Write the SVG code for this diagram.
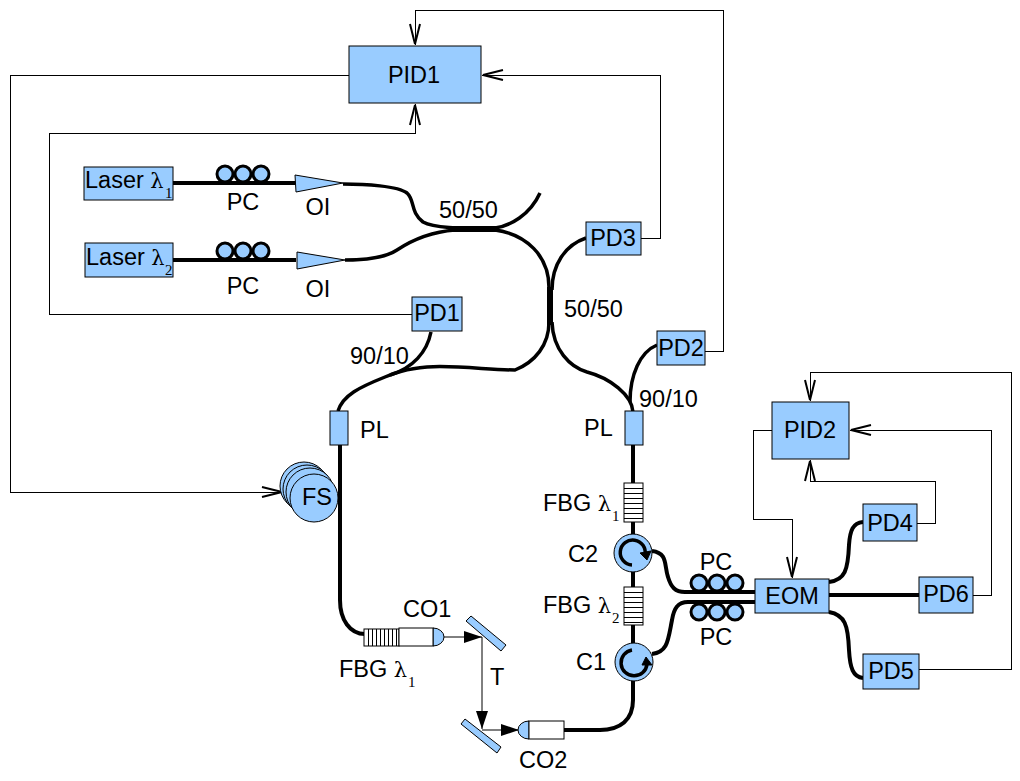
<svg xmlns="http://www.w3.org/2000/svg" width="1020" height="781" viewBox="0 0 1020 781">
<style>
text{font-family:"Liberation Sans",Arial,sans-serif;font-size:23.500px;fill:#000}
.c{text-anchor:middle}
.sym{font-family:"DejaVu Serif","Liberation Serif",serif;font-size:21px}
.sub{font-family:"Liberation Serif",serif;font-size:15px}
.box{fill:#99ccff;stroke:#000;stroke-width:1}
.coil{fill:#99ccff;stroke:#000;stroke-width:3}
.fib{fill:none;stroke:#000;stroke-width:3.500}
.heavy{fill:none;stroke:#000;stroke-width:4}
.thick{fill:none;stroke:#000;stroke-width:6}
.wire{fill:none;stroke:#000;stroke-width:1;shape-rendering:crispEdges;marker-end:url(#open)}
.beam{fill:none;stroke:#000;stroke-width:1;marker-end:url(#solid)}
.white{fill:#fff;stroke:#000;stroke-width:1}
.grate{stroke:#000;stroke-width:1;fill:none;shape-rendering:crispEdges}
.turn{fill:none;stroke:#000;stroke-width:3.500}
</style>
<defs>
<marker id="open" markerUnits="userSpaceOnUse" markerWidth="24" markerHeight="14" refX="22" refY="7" orient="auto">
<path d="M1 2L21 7L1 12" fill="none" stroke="#000" stroke-width="2"/>
</marker>
<marker id="solid" markerUnits="userSpaceOnUse" markerWidth="20" markerHeight="14" refX="18" refY="6" orient="auto">
<path d="M0 0L18 6L0 12Z" fill="#000"/>
</marker>
</defs>

<g id="connectors">
<!-- control wiring -->
<path class="wire" d="M349 75H10V492H283"/>
<path class="wire" d="M412 314H49V133H415V104"/>
<path class="wire" d="M641 238H660V75H482"/>
<path class="wire" d="M705 351H723V10H415V45"/>
<path class="wire" d="M772 430H753V519H792V578"/>
<path class="wire" d="M917 523H935V481H810V460"/>
<path class="wire" d="M973 595H991V430H850"/>
<path class="wire" d="M919 669H1011V372H810V401"/>
<!-- fibre runs -->
<path class="heavy" d="M173 183H296M173 260H296"/>
<path class="fib" d="M343 184C365 184 398 186 407 193C415 200 410 212 423 222C432 227 445 227 455 228"/>
<path class="fib" d="M345 260C365 260 385 258 397 250C412 240 430 232 455 230"/>
<path class="fib" d="M495 228C510 226 530 215 540 193"/>
<path class="fib" d="M495 230C525 234 550 255 549 290"/>
<path class="fib" d="M586 238C565 245 552 265 552 290"/>
<path class="fib" d="M549 322C549 345 535 362 515 370C490 370 455 365 427 367C405 369 395 373 385 377C360 387 343 395 338 411"/>
<path class="fib" d="M431 332C427 352 413 368 390 375"/>
<path class="fib" d="M552 322C553 350 570 367 587 372C610 378 632 395 633 412"/>
<path class="fib" d="M657 345C640 352 630 375 630 402"/>
<path class="thick" d="M453 229H497M550 287V325"/>
<path class="heavy" d="M340 445V600C340 620 350 634 365 634"/>
<path class="heavy" d="M633 445V483M633 522V535M633 571V587M633 625V643M633 681V700C633 720 620 730 600 730H564"/>
<path class="heavy" d="M652 551C668 553 664 565 668 577C671 587 675 592 685 592H755"/>
<path class="heavy" d="M652 654C668 652 668 640 672 620C674 608 678 602 688 602H755"/>
<path class="heavy" d="M829 582C845 580 848 570 849 545C850 530 853 523 863 522"/>
<path class="heavy" d="M829 595H919"/>
<path class="heavy" d="M829 612C845 615 848 625 849 650C850 668 853 677 863 678"/>
<!-- free-space beam -->
<path class="beam" d="M444 637H482"/>
<path class="beam" d="M482 637V729"/>
<path class="beam" d="M482 730H519"/>
</g>

<g id="pid1"><rect class="box" x="349" y="46" width="132" height="57"/><text class="c" x="414" y="83">PID1</text></g>
<g id="laser1"><rect class="box" x="84" y="167" width="89" height="33"/><text x="85" y="188">Laser <tspan class="sym">λ</tspan></text><text class="sub" x="165" y="198">1</text></g>
<g id="laser2"><rect class="box" x="85" y="243" width="88" height="34"/><text x="86" y="265">Laser <tspan class="sym">λ</tspan></text><text class="sub" x="165" y="275">2</text></g>

<g id="pc1"><circle class="coil" cx="225" cy="174" r="8"/><circle class="coil" cx="243" cy="174" r="8"/><circle class="coil" cx="261" cy="174" r="8"/><text class="c" x="243" y="210">PC</text></g>
<g id="pc2"><circle class="coil" cx="225" cy="251" r="8"/><circle class="coil" cx="243" cy="251" r="8"/><circle class="coil" cx="261" cy="251" r="8"/><text class="c" x="243" y="294">PC</text></g>
<g id="oi1"><path class="box" d="M295 175L343 183L296 192Z"/><text class="c" x="318" y="215">OI</text></g>
<g id="oi2"><path class="box" d="M297 252L345 260L297 269Z"/><text class="c" x="318" y="297">OI</text></g>

<g id="pd1"><rect class="box" x="412" y="297" width="50" height="34"/><text class="c" x="437" y="321">PD1</text></g>
<g id="pd2"><rect class="box" x="657" y="331" width="48" height="34"/><text class="c" x="681" y="356">PD2</text></g>
<g id="pd3"><rect class="box" x="586" y="222" width="55" height="33"/><text class="c" x="613" y="246">PD3</text></g>
<g id="pd4"><rect class="box" x="863" y="504" width="54" height="37"/><text class="c" x="890" y="531">PD4</text></g>
<g id="pd5"><rect class="box" x="863" y="654" width="56" height="35"/><text class="c" x="891" y="679">PD5</text></g>
<g id="pd6"><rect class="box" x="919" y="577" width="54" height="36"/><text class="c" x="946" y="602">PD6</text></g>
<g id="pid2"><rect class="box" x="772" y="402" width="77" height="57"/><text class="c" x="810" y="438">PID2</text></g>
<g id="eom"><rect class="box" x="755" y="579" width="74" height="34"/><text class="c" x="792" y="604">EOM</text></g>

<g id="pl1"><rect class="box" x="330" y="411" width="18" height="34"/><text x="360" y="438">PL</text></g>
<g id="pl2"><rect class="box" x="625" y="411" width="18" height="34"/><text x="584" y="436">PL</text></g>

<g id="fs">
<circle class="box" cx="304" cy="486" r="24"/><circle class="box" cx="307" cy="489" r="24"/><circle class="box" cx="310" cy="492" r="24"/><circle class="box" cx="314" cy="498" r="24"/>
<text class="c" x="317" y="505">FS</text>
</g>

<g id="fbg1"><rect class="white" x="624" y="483" width="19" height="39"/><path class="grate" d="M624 488H643M624 493H643M624 498H643M624 503H643M624 508H643M624 513H643M624 518H643"/><text x="543" y="511">FBG <tspan class="sym">λ</tspan></text><text class="sub" x="612" y="521">1</text></g>
<g id="fbg2"><rect class="white" x="624" y="587" width="19" height="38"/><path class="grate" d="M624 592H643M624 597H643M624 602H643M624 607H643M624 612H643M624 617H643M624 622H643"/><text x="543" y="613">FBG <tspan class="sym">λ</tspan></text><text class="sub" x="612" y="623">2</text></g>

<g id="c2"><circle class="box" cx="633" cy="553" r="19"/><path class="turn" d="M645 555A12.500 12.500 0 1 0 632 565"/><path d="M640 553L651 551L647 560Z" stroke="#000" stroke-width="1"/><text x="568" y="562">C2</text></g>
<g id="c1"><circle class="box" cx="634" cy="662" r="19"/><path class="turn" d="M632 650A13 13 0 1 0 647 664"/><path d="M646 657L642 665L652 665Z" stroke="#000" stroke-width="1"/><text x="576" y="670">C1</text></g>

<g id="pc3"><circle class="coil" cx="699" cy="583" r="8"/><circle class="coil" cx="717" cy="583" r="8"/><circle class="coil" cx="735" cy="583" r="8"/><text class="c" x="716" y="570">PC</text></g>
<g id="pc4"><circle class="coil" cx="699" cy="612" r="8"/><circle class="coil" cx="717" cy="612" r="8"/><circle class="coil" cx="735" cy="612" r="8"/><text class="c" x="716" y="645">PC</text></g>

<g id="fbg3"><rect class="white" x="364" y="629" width="35" height="17"/><path class="grate" d="M368 629V646M372 629V646M376 629V646M380 629V646M384 629V646M388 629V646M392 629V646M396 629V646"/><text x="339" y="677">FBG <tspan class="sym">λ</tspan></text><text class="sub" x="408" y="687">1</text></g>
<g id="co1"><path class="box" d="M433 628A11 9 0 0 1 433 646Z"/><rect class="white" x="399" y="628" width="34" height="18"/><text x="403" y="617">CO1</text></g>
<g id="co2"><path class="box" d="M529 721A11 9 0 0 0 529 739Z"/><rect class="white" x="529" y="721" width="35" height="18"/><text x="519" y="768">CO2</text></g>
<g id="m1"><path class="box" d="M466 621L471 616L506 645L501 651Z"/></g>
<g id="m2"><path class="box" d="M461 724L465 719L501 747L497 753Z"/></g>

<text x="439" y="218">50/50</text>
<text x="564" y="317">50/50</text>
<text x="350" y="364">90/10</text>
<text x="639" y="407">90/10</text>
<text x="490" y="685">T</text>
</svg>
